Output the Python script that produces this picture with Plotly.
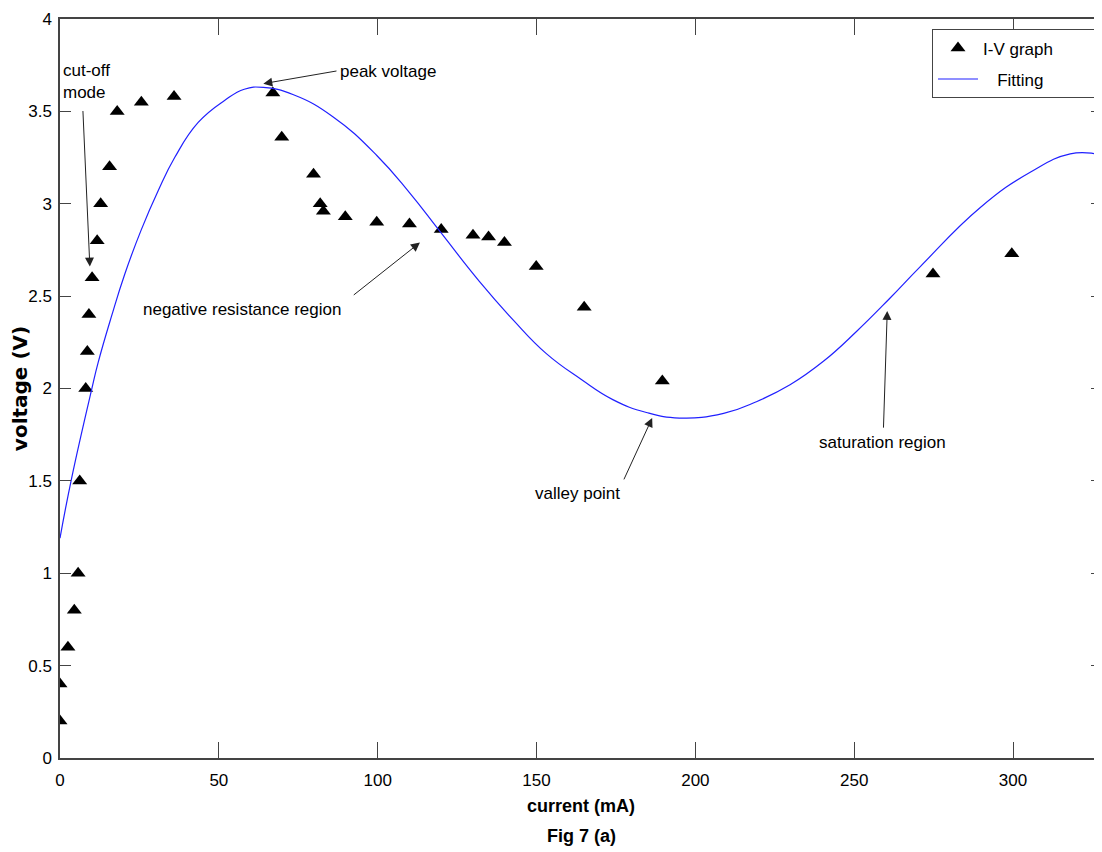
import plotly.graph_objects as go

# Measured I-V data points
current_ma = [0, 0, 2.5, 4.5, 5.7, 6.2, 8.1, 8.6, 9.1, 10.1, 11.7, 12.8, 15.6, 18.0,
              25.6, 35.9, 67.0, 69.8, 79.8, 81.9, 82.9, 89.8, 99.7, 110.0, 120.0,
              130.0, 134.9, 139.9, 149.9, 165.0, 189.6, 274.8, 299.6]
voltage_v = [0.2, 0.4, 0.6, 0.8, 1.0, 1.5, 2.0, 2.2, 2.4, 2.6, 2.8, 3.0, 3.2, 3.5,
             3.55, 3.58, 3.6, 3.36, 3.16, 3.0, 2.96, 2.93, 2.9, 2.89, 2.86,
             2.83, 2.82, 2.79, 2.66, 2.44, 2.04, 2.62, 2.73]

# Fitted curve
fit_x = [0, 3.6, 9.9, 12.0, 16.2, 20.4, 25.6, 30.9, 36.1, 43.5, 51.9, 58.0, 64.0,
         73.5, 86.0, 99.8, 110.0, 119.6, 132.0, 142.7, 153.0, 164.0, 174.0, 184.6,
         195.0, 208.9, 219.4, 229.8, 240.3, 250.8, 261.3, 270.8, 289.7, 305.4,
         318.0, 326.5, 330.0]
fit_y = [1.19, 1.51, 1.99, 2.14, 2.39, 2.62, 2.86, 3.07, 3.25, 3.44, 3.56, 3.62, 3.63,
         3.59, 3.47, 3.26, 3.06, 2.85, 2.58, 2.37, 2.19, 2.05, 1.94, 1.87,
         1.84, 1.865, 1.93, 2.02, 2.147, 2.31, 2.49, 2.66, 2.98, 3.17,
         3.27, 3.27, 3.26]

x_ticks = [0, 50, 100, 150, 200, 250, 300]
y_ticks = [0, 0.5, 1, 1.5, 2, 2.5, 3, 3.5, 4]

# Annotations: (text, text_x, text_y, tail_x, tail_y, head_x, head_y)
labels = [
    ("cut-off<br>mode", 0.3, 3.66, 7.2, 3.51, 9.4, 2.66),
    ("peak voltage", 87.5, 3.715, 87.5, 3.72, 64.0, 3.65),
    ("negative resistance region", 57.3, 2.43, 92.0, 2.50, 113.3, 2.79),
    ("valley point", 163.0, 1.43, 177.3, 1.50, 186.4, 1.84),
    ("saturation region", 259.0, 1.71, 259.2, 1.78, 260.4, 2.42),
]
anchors = ["left", "left", "center", "center", "center"]

FONT = "Liberation Sans, Arial, sans-serif"
NB = "\u00a0"

fig = go.Figure()
fig.add_trace(go.Scatter(
    x=current_ma, y=voltage_v, mode="markers", name="I-V graph" + NB * 9,
    legendgroup="a",
    marker=dict(symbol="triangle-up", size=13, color="black"),
))
fig.add_trace(go.Scatter(
    x=fit_x, y=fit_y, mode="lines", name=NB * 3 + "Fitting",
    legendgroup="b",
    line=dict(color="#2020ff", width=1.2, shape="spline", smoothing=1.3),
))

for (txt, tx, ty, ax, ay, hx, hy), anc in zip(labels, anchors):
    fig.add_annotation(x=hx, y=hy, ax=ax, ay=ay, xref="x", yref="y",
                       axref="x", ayref="y", text="", showarrow=True,
                       arrowhead=2, arrowsize=1.8, arrowwidth=1,
                       arrowcolor="#222222", standoff=0, startstandoff=0)
    fig.add_annotation(x=tx, y=ty, xref="x", yref="y", text=txt,
                       showarrow=False, xanchor=anc, yanchor="middle",
                       align="left",
                       font=dict(family=FONT, size=17, color="black"))

# Figure caption below the axis title
fig.add_annotation(x=0.5, y=-0.106, xref="paper", yref="paper",
                   text="<b>Fig 7 (a)</b>", showarrow=False,
                   xanchor="center", yanchor="middle",
                   font=dict(family=FONT, size=18, color="black"))

fig.update_xaxes(
    range=[0, 328], tickvals=x_ticks, ticktext=[str(v) for v in x_ticks],
    ticks="inside", ticklen=16, tickcolor="#444", tickwidth=1,
    showline=True, linecolor="#444", linewidth=1.5, mirror="ticks",
    showgrid=False, zeroline=False, ticklabelstandoff=6, automargin=False,
    tickfont=dict(family=FONT, size=17, color="black"),
    title=dict(text="<b>current (mA)</b>", standoff=10,
               font=dict(family=FONT, size=18, color="black")),
)
fig.update_yaxes(
    range=[0, 4], tickvals=y_ticks, ticktext=[f"{v:g}" for v in y_ticks],
    ticks="inside", ticklen=11, tickcolor="#444", tickwidth=1,
    showline=True, linecolor="#444", linewidth=1.5, mirror="ticks",
    showgrid=False, zeroline=False, ticklabelstandoff=3, automargin=False,
    tickfont=dict(family=FONT, size=17, color="black"),
    title=dict(text="<b>voltage (V)</b>", standoff=0,
               font=dict(family="DejaVu Sans", size=20, color="black")),
)

fig.update_layout(
    width=1094, height=844,
    margin=dict(l=52, r=0, t=11, b=94, autoexpand=False),
    paper_bgcolor="white", plot_bgcolor="white",
    showlegend=True,
    legend=dict(x=1, y=0.986, xanchor="right", yanchor="top",
                bgcolor="white", bordercolor="#444", borderwidth=1,
                font=dict(family=FONT, size=17, color="black"),
                itemwidth=40, tracegroupgap=6),
)

fig.write_html("out.html")
